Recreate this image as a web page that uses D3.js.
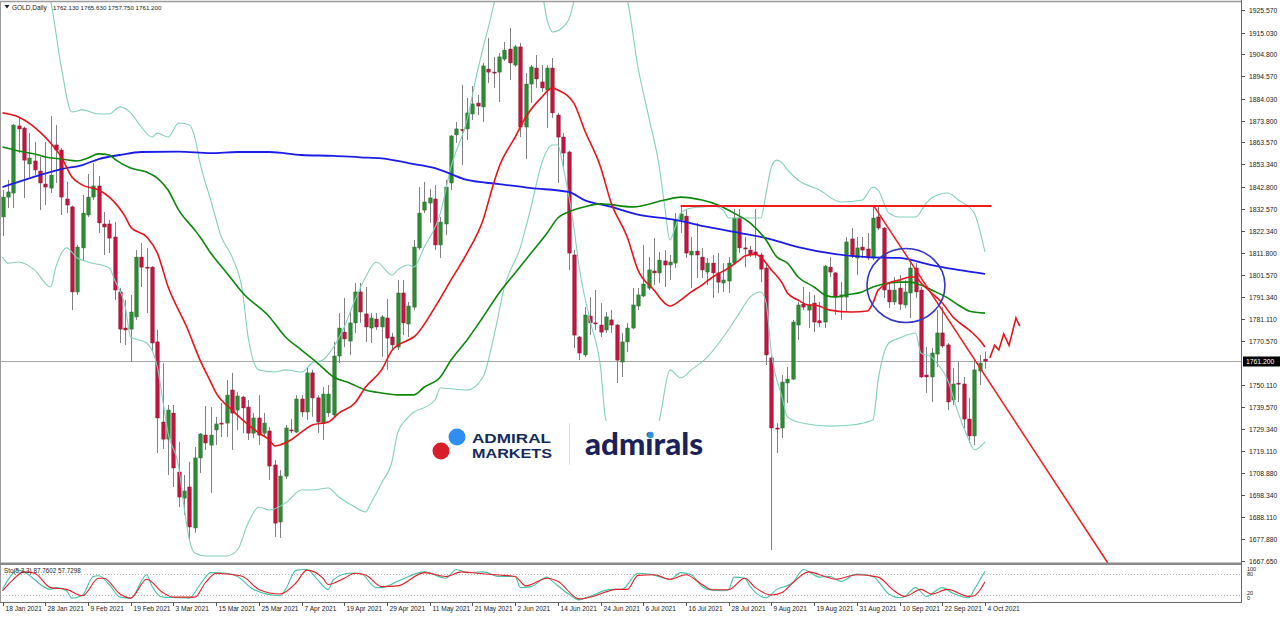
<!DOCTYPE html>
<html><head><meta charset="utf-8">
<script src="https://cdn.jsdelivr.net/npm/d3@7/dist/d3.min.js"></script>
<style>html,body{margin:0;padding:0;background:#fff;}svg{display:block;}</style>
</head><body>
<svg id="c" width="1280" height="617"></svg>
<script>
// ---------------- DATA ----------------
const symbolTitle = "GOLD,Daily";
const headerOHLC = "1762.130 1765.630 1757.750 1761.200";
const stochTitle = "Sto(5,3,3) 87.7602 57.7298";
const lastPrice = 1761.2;

const open = [1828.7,1838.0,1839.9,1871.3,1870.3,1853.5,1854.9,1850.2,1844.1,1842.2,1862.4,1860.0,1837.1,1833.4,1793.6,1814.2,1829.6,1838.0,1843.2,1825.4,1825.4,1819.3,1793.6,1776.7,1776.2,1781.9,1809.9,1805.2,1805.2,1770.2,1732.7,1724.7,1736.9,1709.3,1697.1,1702.3,1683.1,1715.9,1726.6,1721.9,1729.0,1732.2,1732.2,1747.7,1738.3,1744.4,1739.7,1727.5,1734.6,1727.5,1728.5,1712.6,1685.9,1707.4,1729.0,1728.0,1743.5,1737.4,1755.7,1744.0,1732.2,1737.0,1736.0,1763.6,1774.8,1770.6,1779.1,1793.6,1783.3,1776.7,1780.9,1777.2,1781.4,1772.5,1767.8,1793.1,1778.6,1786.5,1814.2,1831.9,1835.2,1837.1,1815.6,1825.4,1844.6,1867.1,1869.6,1869.9,1876.9,1882.0,1880.2,1897.9,1896.5,1896.5,1902.6,1907.3,1899.8,1908.3,1870.8,1890.9,1898.4,1891.9,1888.1,1898.4,1876.4,1866.1,1859.1,1810.9,1772.5,1764.1,1782.3,1779.1,1778.1,1775.8,1780.5,1778.1,1760.8,1770.2,1776.7,1787.0,1791.7,1795.4,1803.4,1802.5,1808.1,1806.2,1807.1,1827.3,1829.1,1810.9,1812.7,1809.9,1802.9,1807.1,1802.5,1797.8,1798.7,1807.1,1828.2,1814.2,1813.2,1812.3,1810.9,1804.8,1762.7,1729.9,1729.9,1751.0,1752.8,1778.1,1787.9,1785.1,1788.4,1780.1,1779.5,1805.2,1802.5,1791.2,1791.2,1818.4,1809.5,1814.6,1813.7,1809.5,1828.7,1823.5,1794.5,1788.9,1795.4,1787.5,1793.1,1804.8,1794.5,1754.7,1753.8,1764.5,1774.4,1768.8,1743.0,1750.9,1750.5,1734.1,1726.2,1756.6,1762.13];
const high = [1841.3,1846.0,1872.2,1875.0,1871.0,1868.0,1863.8,1856.8,1863.8,1875.9,1871.7,1861.0,1845.1,1834.0,1815.6,1839.0,1848.8,1853.9,1847.9,1831.0,1827.3,1826.3,1795.4,1789.8,1792.2,1813.2,1816.5,1814.2,1805.7,1775.8,1760.3,1740.7,1740.7,1723.4,1707.9,1714.0,1721.0,1727.6,1740.2,1739.7,1735.1,1741.6,1752.4,1755.7,1746.8,1744.9,1743.0,1736.9,1745.3,1736.9,1730.4,1714.9,1710.2,1731.3,1734.1,1745.3,1745.3,1758.4,1757.1,1745.3,1749.1,1750.0,1770.2,1783.7,1790.8,1784.2,1797.8,1797.8,1795.9,1783.7,1783.7,1782.8,1790.3,1774.4,1799.2,1799.2,1788.9,1817.9,1842.7,1845.1,1841.8,1843.6,1828.7,1846.0,1867.1,1873.1,1890.5,1884.4,1890.0,1885.8,1900.8,1912.5,1903.6,1905.4,1910.6,1917.1,1909.2,1910.1,1896.1,1899.8,1904.5,1899.8,1899.8,1903.1,1877.4,1868.0,1859.6,1813.2,1773.0,1786.5,1791.2,1794.5,1788.4,1784.2,1785.1,1778.6,1774.4,1779.1,1795.4,1795.4,1815.6,1809.9,1818.8,1812.3,1813.2,1810.9,1830.5,1833.8,1831.9,1819.3,1825.9,1814.2,1809.5,1810.9,1811.8,1807.1,1809.9,1832.4,1832.4,1819.3,1815.1,1832.4,1811.8,1806.2,1764.1,1732.2,1754.7,1758.4,1780.5,1788.9,1795.9,1793.6,1792.2,1788.9,1806.2,1809.9,1802.9,1798.2,1819.3,1823.5,1819.3,1819.3,1821.2,1833.4,1833.8,1824.0,1797.8,1800.6,1801.5,1799.2,1807.1,1807.1,1795.9,1767.8,1767.3,1785.1,1786.5,1769.7,1758.0,1760.8,1753.8,1744.0,1761.7,1764.1,1765.63];
const low = [1819.8,1832.9,1832.9,1858.6,1837.6,1847.4,1848.3,1831.9,1834.3,1839.9,1844.6,1829.6,1830.5,1785.1,1792.2,1808.5,1828.7,1836.6,1821.2,1810.9,1811.8,1789.8,1769.7,1768.8,1760.8,1780.5,1795.9,1783.7,1765.5,1718.2,1720.1,1707.9,1702.3,1692.9,1689.2,1677.5,1680.8,1708.8,1719.6,1699.5,1721.9,1725.7,1725.7,1719.6,1729.0,1727.5,1724.3,1725.2,1721.9,1725.7,1705.6,1678.9,1678.4,1706.0,1727.5,1727.5,1735.1,1733.6,1735.1,1727.5,1724.3,1735.1,1734.6,1760.3,1767.8,1764.1,1774.4,1779.1,1770.2,1769.7,1775.8,1763.2,1757.1,1766.4,1766.4,1773.4,1772.5,1785.1,1813.2,1830.5,1825.9,1813.2,1809.5,1820.2,1841.3,1863.3,1853.0,1864.7,1874.1,1876.4,1873.1,1891.4,1889.1,1882.5,1901.7,1892.8,1898.9,1866.1,1855.8,1882.0,1889.1,1887.2,1870.3,1875.0,1844.6,1852.1,1803.9,1767.3,1761.7,1763.2,1773.4,1775.8,1772.5,1774.4,1774.4,1751.0,1753.8,1765.5,1776.2,1785.1,1791.2,1794.5,1796.8,1797.8,1795.9,1799.2,1804.8,1821.2,1809.5,1795.4,1800.1,1800.1,1796.8,1790.8,1793.1,1793.6,1793.1,1806.6,1811.8,1805.2,1809.9,1809.5,1798.2,1759.4,1672.8,1718.2,1725.2,1741.6,1752.4,1771.1,1785.1,1776.7,1774.8,1777.2,1776.7,1800.6,1782.8,1780.5,1784.2,1809.5,1801.5,1809.5,1808.5,1808.5,1822.6,1790.8,1786.1,1787.5,1785.1,1786.1,1781.4,1790.8,1753.3,1746.3,1742.1,1758.4,1767.3,1738.3,1740.7,1742.1,1729.9,1722.9,1721.9,1750.0,1757.75];
const close = [1838.0,1840.4,1871.7,1869.9,1855.3,1856.3,1850.7,1844.6,1842.7,1848.3,1860.0,1838.0,1834.3,1793.6,1814.6,1830.5,1838.0,1843.2,1825.9,1824.0,1818.8,1794.5,1776.2,1775.8,1784.2,1809.9,1805.2,1804.8,1769.7,1734.6,1724.7,1738.3,1711.2,1697.6,1700.4,1683.6,1715.9,1727.1,1722.9,1726.6,1731.8,1732.0,1745.3,1736.9,1744.9,1739.3,1727.5,1734.6,1726.6,1732.2,1712.1,1685.4,1707.4,1729.9,1728.7,1743.5,1737.4,1755.7,1744.0,1732.7,1745.8,1745.8,1763.6,1776.7,1771.6,1779.1,1793.6,1784.2,1777.2,1781.4,1777.2,1781.9,1772.0,1768.8,1793.1,1779.1,1787.0,1814.6,1830.5,1835.7,1837.6,1815.6,1826.3,1842.7,1866.6,1869.9,1869.4,1877.4,1881.6,1880.6,1899.4,1896.5,1896.3,1903.6,1906.8,1900.8,1908.3,1870.8,1890.9,1898.9,1893.3,1889.1,1898.4,1877.4,1866.1,1858.6,1811.8,1773.4,1765.0,1782.8,1779.1,1778.9,1774.8,1781.9,1778.1,1761.7,1770.2,1776.7,1787.5,1792.2,1797.3,1803.9,1802.5,1808.5,1806.2,1807.6,1827.3,1830.1,1811.8,1812.7,1810.9,1803.9,1807.1,1802.5,1798.2,1799.2,1807.1,1828.2,1814.2,1813.7,1810.9,1810.9,1804.3,1764.1,1729.9,1729.4,1751.4,1752.8,1779.5,1787.5,1786.5,1787.5,1779.5,1779.1,1805.7,1802.9,1791.2,1792.2,1817.0,1810.4,1814.2,1813.2,1809.5,1828.2,1823.5,1794.5,1788.9,1794.5,1787.9,1793.6,1804.8,1793.6,1753.8,1753.8,1765.0,1774.4,1768.3,1742.1,1750.5,1750.5,1734.1,1726.2,1757.1,1760.3,1761.20];

// indicator series: [bar index, value]
const maRed = [[0,1877.4],[3,1875.5],[7,1868.5],[9,1863.3],[11,1856.8],[13,1847.4],[15,1843.6],[18,1841.3],[20,1838.0],[23,1828.7],[24,1824.0],[27,1819.3],[29,1811.8],[31,1796.1],[34.5,1777.2],[37,1761.7],[39,1751.4],[40,1746.3],[43,1738.3],[45,1733.6],[48,1727.6],[50,1724.3],[51,1721.5],[52,1722.0],[54,1724.3],[56,1728.0],[58,1731.3],[61,1732.7],[63,1736.9],[66,1741.6],[68,1749.1],[71,1757.1],[73,1766.4],[76,1771.1],[77,1772.5],[81,1786.5],[84,1799.2],[87,1811.8],[90,1827.3],[92,1844.6],[93,1852.1],[96,1866.1],[98,1875.5],[101,1884.8],[103,1889.1],[104,1888.1],[107,1882.0],[109,1869.4],[112,1852.1],[114,1835.2],[117,1819.3],[119,1803.9],[122,1794.5],[124,1788.4],[125,1787.0],[127,1789.8],[129,1793.6],[131,1796.8],[133,1800.6],[136,1804.8],[138,1808.5],[139,1810.4],[141,1811.3],[142,1809.9],[144,1803.9],[146,1797.8],[147,1793.1],[149,1789.8],[151,1787.5],[152,1787.5],[155,1785.1],[159,1784.2],[162,1784.7],[163,1788.4],[164,1794.5],[166,1797.8],[168,1799.2],[170,1800.6],[171,1800.6],[172,1797.8],[174,1793.1],[176,1788.4],[178,1781.9],[181,1775.8],[183,1771.1],[184,1767.8]];
const maGreen = [[0,1861.4],[3,1859.6],[6,1858.2],[8,1856.8],[11,1855.8],[14,1854.9],[16,1856.3],[18,1858.2],[20,1857.7],[21,1855.8],[24,1851.6],[27,1849.7],[29,1846.9],[31,1841.3],[33,1831.9],[36,1822.6],[37,1819.3],[39,1811.8],[42,1802.5],[45,1793.1],[50,1781.9],[53,1772.5],[56,1766.4],[59,1760.3],[62,1753.8],[65,1751.0],[68,1747.7],[71,1746.3],[74,1745.4],[77,1745.4],[79,1749.1],[82,1753.8],[84,1761.7],[87,1771.1],[90,1781.9],[93,1793.1],[96,1802.5],[99,1811.8],[102,1821.2],[104,1828.2],[106,1831.0],[109,1833.4],[112,1834.8],[118,1833.4],[124,1836.6],[127,1838.0],[131,1836.6],[134,1834.3],[137,1830.5],[140,1825.9],[143,1817.9],[145,1810.0],[147,1807.1],[149,1800.6],[152,1795.9],[154,1792.2],[156,1791.2],[158,1792.2],[161,1793.6],[163,1795.9],[166,1797.8],[168,1798.2],[170,1798.2],[172,1796.8],[174,1794.5],[177,1790.8],[179,1787.5],[181,1784.7],[184,1783.7]];
const maBlue = [[0,1842.7],[3,1845.1],[7,1848.3],[11,1851.1],[15,1853.0],[18,1855.8],[22,1857.7],[26,1859.1],[33,1859.3],[39,1858.6],[44,1859.1],[50,1859.1],[56,1857.7],[62,1857.3],[67,1856.6],[71,1856.1],[74,1854.9],[76,1853.9],[81,1851.6],[87,1846.0],[93,1844.1],[99,1842.2],[106,1840.4],[109,1836.6],[114,1833.4],[119,1829.8],[126,1827.3],[132,1824.0],[138,1821.2],[143,1818.8],[149,1814.6],[156,1811.3],[162,1809.9],[168,1809.5],[174,1806.2],[179,1803.9],[184,1802.0]];
const bbUpper = [[0,1965],[5,1952],[9,1930.0],[11,1898.9],[13,1877.8],[15,1878.8],[18,1876.9],[20,1876.9],[22,1880.2],[24,1877.4],[26,1870.8],[28,1866.1],[29,1868.0],[31,1866.1],[33,1872.7],[35,1871.7],[36,1866.1],[37,1853.9],[39,1836.6],[41,1819.3],[43,1809.9],[45,1793.1],[46,1772.5],[48,1757.1],[51,1756.1],[53,1757.1],[56,1756.1],[58,1760.3],[60,1761.7],[62,1767.8],[64,1777.2],[66,1789.8],[68,1800.6],[70,1807.6],[73,1801.5],[74,1803.9],[76,1806.2],[77,1805.2],[79,1814.6],[82,1830.5],[84,1852.1],[87,1874.1],[89,1897.5],[91,1917.6],[93,1935],[97,1940],[101,1933],[102,1920.9],[103,1915.3],[105,1917.6],[106,1920.9],[108,1937],[112,1942],[116,1937],[117,1930.3],[119,1898.9],[121,1875.8],[123,1852.1],[124,1834.0],[125,1817.9],[126,1824.0],[127,1830.5],[129,1832.9],[131,1833.4],[133,1833.8],[135,1831.9],[136,1828.2],[139,1828.2],[142,1828.2],[143,1839.9],[144,1852.1],[145,1855.3],[146,1854.0],[147,1850.7],[149,1846.0],[153,1841.3],[157,1835.7],[161,1836.6],[163,1842.7],[164,1841.3],[166,1830.5],[168,1828.7],[171,1828.7],[173,1835.2],[174,1837.6],[177,1839.9],[179,1836.6],[182,1830.5],[183,1822.6],[184,1812.3]];
const bbLower = [[0,1809.9],[1,1807.1],[3,1807.6],[6,1803.9],[9,1795.9],[10,1805.2],[12,1814.2],[14,1809.5],[16,1807.6],[20,1804.8],[21,1799.2],[23,1786.5],[24,1772.5],[27,1769.7],[29,1758.5],[30,1743.0],[31,1727.6],[33,1711.6],[34,1693.0],[35,1677.5],[36,1671.4],[38,1670.0],[42,1670.0],[44,1672.8],[46,1685.4],[48,1692.9],[50,1691.5],[53,1694.8],[56,1700.9],[58,1700.9],[61,1701.8],[63,1697.6],[66,1692.9],[68,1690.6],[69,1694.8],[71,1704.2],[73,1714.9],[74,1727.6],[76,1735.0],[81,1743.0],[82,1748.6],[87,1747.7],[90,1753.8],[92,1772.5],[94,1795.9],[97,1814.6],[99,1833.4],[101,1854.0],[103,1862.4],[104,1862.4],[105,1852.1],[107,1824.0],[108,1805.2],[110,1780.5],[112,1758.4],[113,1733.6],[116,1724.3],[118,1720.5],[121,1724.3],[123,1733.6],[125,1757.1],[127,1753.3],[129,1757.1],[132,1763.1],[135,1772.5],[138,1783.7],[140,1791.2],[142,1793.6],[143,1788.4],[144,1765.0],[146,1744.4],[147,1735.1],[149,1732.7],[155,1730.8],[159,1731.3],[163,1733.6],[164,1752.4],[166,1769.7],[168,1772.0],[171,1774.4],[172,1765.0],[174,1763.1],[175,1760.3],[177,1752.4],[179,1736.9],[181,1724.3],[182,1719.6],[184,1723.4]];
const stochK = [[0,36],[3,91],[4,86],[9,36],[10,41],[12,32],[13,11],[15,20],[17,73],[18,75],[20,50],[22,14],[24,11],[27,78],[28,45],[30,14],[32,13],[35,11],[37,50],[39,84],[42,82],[44,73],[47,36],[52,18],[53,36],[55,91],[57,93],[59,64],[61,36],[62,64],[65,82],[67,82],[70,41],[71,41],[74,59],[79,86],[83,68],[85,93],[87,84],[90,86],[93,73],[96,73],[97,41],[99,44],[102,71],[103,59],[106,23],[108,6],[110,16],[114,36],[116,36],[119,82],[121,80],[124,68],[125,64],[127,84],[129,78],[131,45],[132,36],[135,32],[136,36],[137,71],[139,68],[140,45],[143,12],[145,36],[148,55],[150,93],[153,71],[155,73],[157,59],[160,80],[163,73],[166,23],[168,12],[169,16],[171,41],[173,16],[176,41],[178,25],[181,12],[182,36],[184,87.76]];
const stochD = [[0,32],[2,64],[4,86],[6,82],[9,41],[12,36],[15,18],[18,68],[19,68],[22,23],[24,11],[27,65],[30,27],[32,14],[36,14],[38,55],[40,82],[42,80],[45,73],[48,36],[52,23],[55,55],[57,91],[60,68],[61,50],[64,68],[66,82],[68,77],[71,44],[74,46],[79,84],[83,73],[86,86],[89,82],[93,77],[96,73],[98,46],[102,68],[104,59],[108,9],[111,18],[115,36],[117,36],[119,76],[122,78],[125,65],[128,78],[131,50],[133,35],[136,35],[139,68],[141,41],[144,20],[146,27],[148,55],[151,86],[154,73],[156,65],[160,78],[164,71],[167,32],[169,16],[172,36],[174,23],[177,36],[181,16],[182,18],[184,57.73]];

// drawn objects
const resistance = [[127,1833.8],[185.2,1833.8]];
const trendLine = [[163.2,1833.8],[207,1666.7]];
const zigzag = [[184.9,1762.7],[185.8,1768.6],[186.6,1766.4],[187.5,1773.9],[188.5,1768.6],[189.8,1781.4],[190.5,1777.6]];
const circleCenter = [169.2,1796.6];

// axes
const priceTicks = [1925.57,1915.03,1904.80,1894.57,1884.03,1873.80,1863.57,1853.34,1842.80,1832.57,1822.34,1811.80,1801.57,1791.34,1781.11,1770.57,1750.11,1739.57,1729.34,1719.11,1708.88,1698.34,1688.11,1677.88,1667.65];
const dateLabels = ["18 Jan 2021","28 Jan 2021","9 Feb 2021","19 Feb 2021","3 Mar 2021","15 Mar 2021","25 Mar 2021","7 Apr 2021","19 Apr 2021","29 Apr 2021","11 May 2021","21 May 2021","2 Jun 2021","14 Jun 2021","24 Jun 2021","6 Jul 2021","16 Jul 2021","28 Jul 2021","9 Aug 2021","19 Aug 2021","31 Aug 2021","10 Sep 2021","22 Sep 2021","4 Oct 2021"];
const dateBars = [0,8,16,24,32,40,48,56,64,72,80,88,96,104,112,120,128,136,144,152,160,168,176,184];
const stochLevels = [80,20];

// ---------------- DRAW ----------------
const svg = d3.select("#c");
const W = 1280, H = 617;
const AX = 1241, MAIN_TOP = 2, MAIN_BOT = 563, ST_TOP = 565, ST_BOT = 602;
const FONT = "'Liberation Sans', Arial, sans-serif";

const xs = d3.scaleLinear().domain([0,184]).range([2.5,985]);
const ys = d3.scaleLinear().domain([1925.57,1667.65]).range([10,561]);
const yst = d3.scaleLinear().domain([0,100]).range([602,567]);

const defs = svg.append("defs");
defs.append("clipPath").attr("id","cm").append("rect").attr("x",0).attr("y",MAIN_TOP).attr("width",AX).attr("height",MAIN_BOT-MAIN_TOP);
defs.append("clipPath").attr("id","cs").append("rect").attr("x",0).attr("y",ST_TOP).attr("width",AX).attr("height",ST_BOT-ST_TOP);

svg.append("rect").attr("width",W).attr("height",H).attr("fill","#fff");

const gm = svg.append("g").attr("clip-path","url(#cm)");
const gs = svg.append("g").attr("clip-path","url(#cs)");

// current price line
gm.append("line").attr("x1",0).attr("x2",AX).attr("y1",Math.round(ys(lastPrice))+0.5).attr("y2",Math.round(ys(lastPrice))+0.5)
  .attr("stroke","#a8a8a8").attr("stroke-width",1);

// candles
const bars = d3.range(open.length).map(i => ({i, o:open[i], h:high[i], l:low[i], c:close[i]}));
const cx = d => Math.round(xs(d.i));
gm.append("g").selectAll("line").data(bars).join("line")
  .attr("x1", d => cx(d)+0.5).attr("x2", d => cx(d)+0.5)
  .attr("y1", d => ys(d.h)).attr("y2", d => ys(d.l))
  .attr("stroke","#808080").attr("stroke-width",1);
gm.append("g").selectAll("rect").data(bars).join("rect")
  .attr("x", d => cx(d)-1.2).attr("width",3.4)
  .attr("y", d => ys(Math.max(d.o,d.c)))
  .attr("height", d => Math.max(1, Math.abs(ys(d.o)-ys(d.c))))
  .attr("fill", d => d.c >= d.o ? "#2e8b34" : "#c0163f")
  .attr("stroke", d => d.c >= d.o ? "#276e2b" : "#8e1230").attr("stroke-width",0.5);

// indicators
const line = d3.line().x(d => xs(d[0])).y(d => ys(d[1])).curve(d3.curveMonotoneX);
gm.append("path").attr("d", line(bbUpper)).attr("fill","none").attr("stroke","#84cfbd").attr("stroke-width",1.1);
gm.append("path").attr("d", line(bbLower)).attr("fill","none").attr("stroke","#84cfbd").attr("stroke-width",1.1);
gm.append("path").attr("d", line(maBlue)).attr("fill","none").attr("stroke","#1c1ce8").attr("stroke-width",1.8);
gm.append("path").attr("d", line(maGreen)).attr("fill","none").attr("stroke","#0b870b").attr("stroke-width",1.6);
gm.append("path").attr("d", line(maRed)).attr("fill","none").attr("stroke","#e8141c").attr("stroke-width",1.6);

// drawn objects
const straight = d3.line().x(d => xs(d[0])).y(d => ys(d[1]));
gm.append("path").attr("d", straight(resistance)).attr("stroke","#ee1c1c").attr("stroke-width",2).attr("fill","none");
gm.append("path").attr("d", straight(trendLine)).attr("stroke","#ee1c1c").attr("stroke-width",1.5).attr("fill","none");
gm.append("path").attr("d", straight(zigzag)).attr("stroke","#e8141c").attr("stroke-width",1.6).attr("fill","none").attr("stroke-linejoin","miter");
gm.append("ellipse").attr("cx", xs(circleCenter[0])).attr("cy", ys(circleCenter[1])).attr("rx",39).attr("ry",37)
  .attr("fill","none").attr("stroke","#3434c6").attr("stroke-width",1.6);

// watermark
const wm = svg.append("g");
wm.append("rect").attr("x",426).attr("y",421).attr("width",290).attr("height",48).attr("fill","#fff");
wm.append("circle").attr("cx",457).attr("cy",437).attr("r",8.5).attr("fill","#2f8ef2");
wm.append("circle").attr("cx",441).attr("cy",451).attr("r",8.5).attr("fill","#d91e2b");
wm.append("text").attr("x",472).attr("y",442.5).text("ADMIRAL").attr("font-family","'Liberation Sans Narrow','Liberation Sans',Arial,sans-serif")
  .attr("font-weight","bold").attr("font-size",13.5).attr("fill","#142a5c").attr("textLength",79).attr("lengthAdjust","spacingAndGlyphs");
wm.append("text").attr("x",472).attr("y",458).text("MARKETS").attr("font-family","'Liberation Sans Narrow','Liberation Sans',Arial,sans-serif")
  .attr("font-weight","bold").attr("font-size",13.5).attr("fill","#142a5c").attr("textLength",80).attr("lengthAdjust","spacingAndGlyphs");
wm.append("line").attr("x1",569.5).attr("x2",569.5).attr("y1",423).attr("y2",465).attr("stroke","#e2e2e2").attr("stroke-width",1);
wm.append("text").attr("x",585).attr("y",455).text("admirals").attr("font-family","Lato, 'Open Sans', sans-serif")
  .attr("font-weight","900").attr("font-size",30).attr("fill","#1b2259").attr("textLength",118).attr("lengthAdjust","spacingAndGlyphs");
wm.append("circle").attr("cx",650.5).attr("cy",435).attr("r",3.2).attr("fill","#2f8ef2");

// stochastic
stochLevels.forEach(v => {
  gs.append("line").attr("x1",0).attr("x2",AX).attr("y1",Math.round(yst(v))+0.5).attr("y2",Math.round(yst(v))+0.5)
    .attr("stroke","#b8b8b8").attr("stroke-dasharray","1,2");
});
const sline = d3.line().x(d => xs(d[0])).y(d => yst(d[1])).curve(d3.curveMonotoneX);
gs.append("path").attr("d", sline(stochK)).attr("fill","none").attr("stroke","#48bfa8").attr("stroke-width",1.1);
gs.append("path").attr("d", sline(stochD)).attr("fill","none").attr("stroke","#e41e26").attr("stroke-width",1.1);

// frames
svg.append("line").attr("x1",0).attr("x2",AX).attr("y1",1.5).attr("y2",1.5).attr("stroke","#9a9a9a").attr("stroke-width",1.5);
svg.append("line").attr("x1",0.5).attr("x2",0.5).attr("y1",1).attr("y2",ST_BOT).attr("stroke","#9a9a9a");
svg.append("rect").attr("x",0).attr("y",562.5).attr("width",AX).attr("height",2.5).attr("fill","#8a8a8a");
svg.append("line").attr("x1",0).attr("x2",AX+1).attr("y1",ST_BOT+0.5).attr("y2",ST_BOT+0.5).attr("stroke","#6a6a6a");
svg.append("line").attr("x1",AX+0.5).attr("x2",AX+0.5).attr("y1",0).attr("y2",ST_BOT+1).attr("stroke","#6a6a6a");

// price axis
const pa = svg.append("g");
priceTicks.forEach(v => {
  const y = Math.round(ys(v))+0.5;
  pa.append("line").attr("x1",AX).attr("x2",AX+4).attr("y1",y).attr("y2",y).attr("stroke","#555");
  pa.append("text").attr("x",AX+8).attr("y",y+2.3).text(v.toFixed(3)).attr("font-family",FONT).attr("font-size",6.8).attr("fill","#222");
});
{
  const y = Math.round(ys(lastPrice))+0.5;
  pa.append("rect").attr("x",AX+2).attr("y",y-5).attr("width",37).attr("height",10).attr("fill","#000");
  pa.append("text").attr("x",AX+5).attr("y",y+2.4).text(lastPrice.toFixed(3)).attr("font-family",FONT).attr("font-size",6.8).attr("fill","#fff");
}
// stochastic axis labels
[[100,569+2],[80,573+3],[20,593+2],[0,598+2]].forEach(([v,yy]) => {
  pa.append("text").attr("x",AX+6).attr("y",yy).text(v).attr("font-family",FONT).attr("font-size",5.5).attr("fill","#222");
});

// date axis
const da = svg.append("g");
dateBars.forEach((b,k) => {
  const x = Math.round(xs(b))+0.5;
  da.append("line").attr("x1",x).attr("x2",x).attr("y1",ST_BOT).attr("y2",ST_BOT+4).attr("stroke","#555");
  da.append("text").attr("x",x+2).attr("y",611).text(dateLabels[k]).attr("font-family",FONT).attr("font-size",6.6).attr("fill","#222");
});

// headers
svg.append("path").attr("d","M4.5,5 L9.5,5 L7,8.5 Z").attr("fill","#222");
svg.append("text").attr("x",12).attr("y",9.5).text(symbolTitle).attr("font-family",FONT).attr("font-size",6.5).attr("fill","#222");
svg.append("text").attr("x",53).attr("y",9.5).text(headerOHLC).attr("font-family",FONT).attr("font-size",6.2).attr("fill","#222");
svg.append("text").attr("x",4).attr("y",573).text(stochTitle).attr("font-family",FONT).attr("font-size",6.3).attr("fill","#222");
</script>
</body></html>
